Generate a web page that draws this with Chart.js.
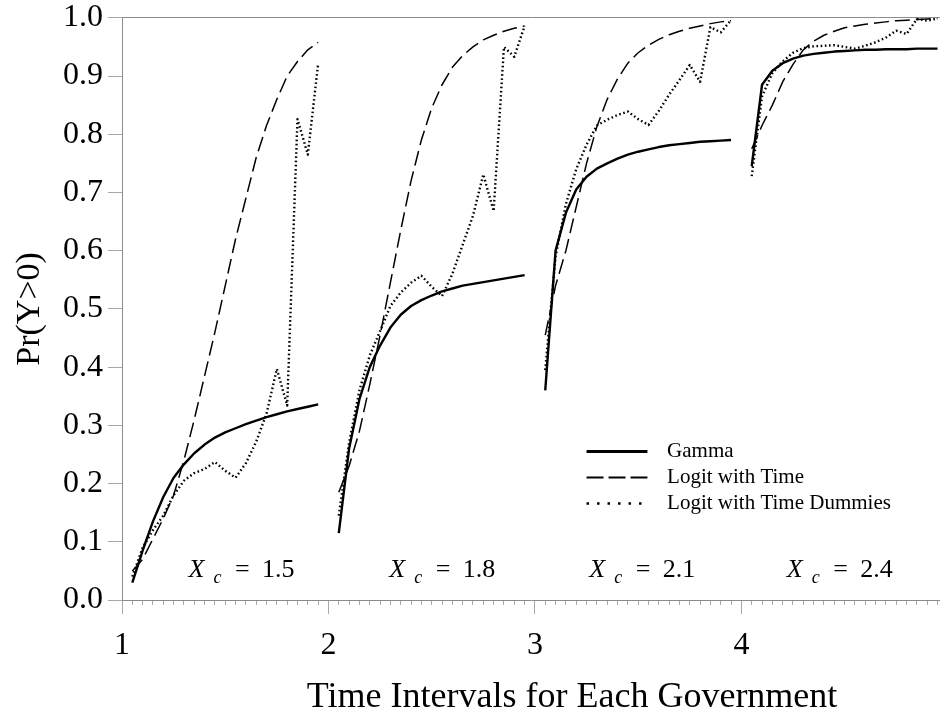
<!DOCTYPE html>
<html>
<head>
<meta charset="utf-8">
<title>Pr(Y>0) by time interval</title>
<script src="https://cdn.jsdelivr.net/npm/chart.js@4.4.1/dist/chart.umd.min.js"></script>
<style>
  html, body { margin: 0; padding: 0; background: #ffffff; }
  #chart { display: block; }
</style>
</head>
<body>
<canvas id="chart" width="940" height="713"></canvas>
<script>
// time within each government's interval
const timeSteps = [0.05, 0.10, 0.15, 0.20, 0.25, 0.30, 0.35, 0.40, 0.45, 0.50,
                   0.55, 0.60, 0.65, 0.70, 0.75, 0.80, 0.85, 0.90, 0.95];
const segmentStarts = [1, 2, 3, 4];
const xcLabels = ["1.5", "1.8", "2.1", "2.4"];
const seriesLabels = ["Gamma", "Logit with Time", "Logit with Time Dummies"];

const gamma15 = [0.030, 0.085, 0.135, 0.177, 0.210, 0.233, 0.252, 0.267, 0.279, 0.288,
                 0.295, 0.302, 0.308, 0.314, 0.319, 0.324, 0.328, 0.332, 0.336];
const gamma18 = [0.115, 0.260, 0.345, 0.400, 0.437, 0.468, 0.490, 0.505, 0.515, 0.523,
                 0.530, 0.535, 0.540, 0.543, 0.546, 0.549, 0.552, 0.555, 0.558];
const gamma21 = [0.360, 0.600, 0.665, 0.705, 0.727, 0.741, 0.750, 0.758, 0.765, 0.770,
                 0.774, 0.778, 0.781, 0.783, 0.785, 0.787, 0.788, 0.789, 0.790];
const gamma24 = [0.745, 0.885, 0.909, 0.922, 0.930, 0.935, 0.938, 0.940, 0.942, 0.943,
                 0.944, 0.945, 0.945, 0.946, 0.946, 0.946, 0.947, 0.947, 0.947];

const logit15 = [0.050, 0.070, 0.105, 0.140, 0.180, 0.240, 0.310, 0.385, 0.460, 0.540,
                 0.620, 0.690, 0.760, 0.815, 0.860, 0.900, 0.925, 0.945, 0.958];
const logit18 = [0.185, 0.230, 0.290, 0.370, 0.455, 0.545, 0.635, 0.720, 0.790, 0.845,
                 0.885, 0.915, 0.935, 0.950, 0.962, 0.970, 0.977, 0.982, 0.986];
const logit21 = [0.455, 0.540, 0.600, 0.675, 0.750, 0.813, 0.860, 0.895, 0.922, 0.940,
                 0.953, 0.963, 0.971, 0.977, 0.982, 0.986, 0.990, 0.993, 0.995];
const logit24 = [0.775, 0.815, 0.850, 0.890, 0.920, 0.945, 0.960, 0.970, 0.977, 0.983,
                 0.986, 0.989, 0.991, 0.993, 0.995, 0.996, 0.997, 0.998, 0.999];

const dummy15 = [0.040, 0.090, 0.120, 0.145, 0.180, 0.205, 0.218, 0.225, 0.237, 0.222,
                 0.210, 0.235, 0.272, 0.320, 0.397, 0.334, 0.826, 0.765, 0.921];
const dummy18 = [0.145, 0.270, 0.360, 0.420, 0.462, 0.505, 0.528, 0.545, 0.557, 0.538,
                 0.522, 0.560, 0.610, 0.660, 0.731, 0.668, 0.950, 0.933, 0.986];
const dummy21 = [0.395, 0.590, 0.680, 0.740, 0.782, 0.815, 0.825, 0.833, 0.839, 0.826,
                 0.816, 0.840, 0.868, 0.893, 0.919, 0.890, 0.984, 0.975, 0.996];
const dummy24 = [0.728, 0.865, 0.905, 0.925, 0.940, 0.948, 0.951, 0.952, 0.953, 0.950,
                 0.947, 0.952, 0.958, 0.966, 0.978, 0.972, 0.998, 0.995, 0.999];

const SERIF = "'Liberation Serif', 'Times New Roman', serif";
const AXIS_GRAY = "#8c8c8c";
const TICK_GRAY = "#a8a8a8";

Chart.defaults.font.family = SERIF;
Chart.defaults.color = "#000000";

// one point list per model, with a null point between governments so the line breaks
function buildPoints(segments) {
  const points = [];
  segments.forEach((values, s) => {
    values.forEach((v, i) => points.push({ x: segmentStarts[s] + timeSteps[i], y: v }));
    points.push({ x: segmentStarts[s] + 0.975, y: null });
  });
  return points;
}

const keyStyles = [
  { width: 3, dash: [] },
  { width: 1.8, dash: [17, 5] },
  { width: 2.5, dash: [2.5, 8] }
];

const seriesKey = {
  id: "seriesKey",
  afterDraw(chart) {
    const { ctx } = chart;
    const x = chart.scales.x;
    const y = chart.scales.y;
    const x0 = x.getPixelForValue(3.25);
    const x1 = x.getPixelForValue(3.545);
    const tx = x.getPixelForValue(3.64);
    const rows = [0.256, 0.211, 0.167];

    seriesLabels.forEach((label, i) => {
      const py = Math.round(y.getPixelForValue(rows[i])) + 0.5;
      ctx.save();
      ctx.strokeStyle = "#000";
      ctx.lineWidth = keyStyles[i].width;
      ctx.setLineDash(keyStyles[i].dash);
      ctx.beginPath();
      ctx.moveTo(x0, py);
      ctx.lineTo(x1, py);
      ctx.stroke();
      ctx.setLineDash([]);
      ctx.fillStyle = "#000";
      ctx.font = "21px " + SERIF;
      ctx.textBaseline = "middle";
      ctx.fillText(label, tx, py);
      ctx.restore();
    });
  }
};

const xcNotes = {
  id: "xcNotes",
  afterDraw(chart) {
    const { ctx } = chart;
    const x = chart.scales.x;
    const y = chart.scales.y;
    const spots = [1.322, 2.295, 3.263, 4.22];
    const base = y.getPixelForValue(0.04);

    ctx.save();
    ctx.fillStyle = "#000";
    ctx.textBaseline = "alphabetic";
    xcLabels.forEach((label, i) => {
      const px = x.getPixelForValue(spots[i]);
      ctx.font = "italic 26px " + SERIF;
      ctx.fillText("X", px, base);
      ctx.font = "italic 18px " + SERIF;
      ctx.fillText("c", px + 25, base + 6);
      ctx.font = "26px " + SERIF;
      ctx.fillText("=", px + 46.5, base);
      ctx.fillText(label, px + 73.5, base);
    });
    ctx.restore();
  }
};

// x title sits a bit right of the plot centre in the original, so it is drawn here
const xTitle = {
  id: "xTitle",
  afterDraw(chart) {
    const { ctx } = chart;
    const x = chart.scales.x;
    ctx.save();
    ctx.fillStyle = "#000";
    ctx.font = "36px " + SERIF;
    ctx.textAlign = "center";
    ctx.textBaseline = "middle";
    ctx.fillText("Time Intervals for Each Government", x.getPixelForValue(3.18), 698);
    ctx.restore();
  }
};

new Chart(document.getElementById("chart"), {
  type: "line",
  data: {
    datasets: [
      {
        label: seriesLabels[0],
        data: buildPoints([gamma15, gamma18, gamma21, gamma24]),
        borderColor: "#000",
        borderWidth: 2.4,
        borderJoinStyle: "round",
        pointRadius: 0,
        tension: 0,
        fill: false
      },
      {
        label: seriesLabels[1],
        data: buildPoints([logit15, logit18, logit21, logit24]),
        borderColor: "#000",
        borderWidth: 1.5,
        borderDash: [15, 6],
        borderJoinStyle: "round",
        pointRadius: 0,
        tension: 0,
        fill: false
      },
      {
        label: seriesLabels[2],
        data: buildPoints([dummy15, dummy18, dummy21, dummy24]),
        borderColor: "#000",
        borderWidth: 2.4,
        borderDash: [1.6, 2.6],
        borderJoinStyle: "round",
        pointRadius: 0,
        tension: 0,
        fill: false
      }
    ]
  },
  options: {
    responsive: false,
    animation: false,
    layout: { padding: 0 },
    plugins: {
      legend: { display: false },
      tooltip: { enabled: false }
    },
    scales: {
      xTop: {
        type: "linear",
        position: "top",
        min: 1,
        max: 4.962,
        afterFit: scale => { scale.height = 15; },
        ticks: { display: false },
        grid: { display: false },
        border: { display: true, color: AXIS_GRAY }
      },
      xm: {
        type: "linear",
        position: "bottom",
        weight: 0,
        min: 1,
        max: 4.962,
        afterFit: scale => { scale.height = 0; },
        ticks: { display: false, stepSize: 0.05, includeBounds: false },
        grid: { drawOnChartArea: false, tickLength: 5, color: TICK_GRAY },
        border: { display: false }
      },
      x: {
        type: "linear",
        position: "bottom",
        weight: 1,
        min: 1,
        max: 4.962,
        afterFit: scale => { scale.height = 113; },
        ticks: {
          stepSize: 1,
          includeBounds: false,
          autoSkip: false,
          maxRotation: 0,
          padding: 12,
          color: "#000",
          font: { size: 32 },
          callback: value => String(value)
        },
        grid: { drawOnChartArea: false, tickLength: 14, color: TICK_GRAY },
        border: { display: true, color: AXIS_GRAY }
      },
      y: {
        min: 0,
        max: 1,
        afterFit: scale => { scale.width = 122; },
        ticks: {
          stepSize: 0.1,
          padding: 5,
          color: "#000",
          font: { size: 32, lineHeight: 0.8 },
          callback: value => value.toFixed(1)
        },
        grid: { drawOnChartArea: false, tickLength: 14, color: TICK_GRAY },
        border: { display: true, color: AXIS_GRAY },
        title: {
          display: true,
          text: "Pr(Y>0)",
          color: "#000",
          font: { size: 34, lineHeight: 0.8 },
          padding: { top: 16, bottom: 0 }
        }
      }
    }
  },
  plugins: [seriesKey, xcNotes, xTitle]
});
</script>
</body>
</html>
